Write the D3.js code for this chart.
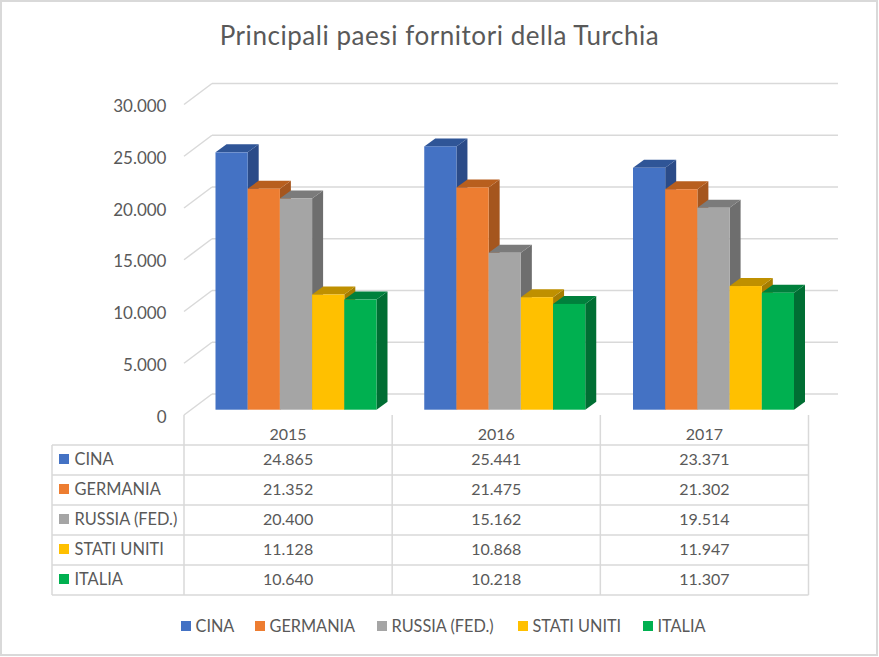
<!DOCTYPE html>
<html lang="it">
<head>
<meta charset="UTF-8">
<title>Principali paesi fornitori della Turchia</title>
<style>
  body { margin: 0; background: #fff; overflow: hidden; }
  svg { display: block; }
  text { font-family: Lato, "Open Sans", sans-serif; fill: #595959; }
</style>
</head>
<body>
<div id="chart"></div>
<script src="https://d3js.org/d3.v7.min.js"></script>
<script>
const years = ["2015", "2016", "2017"];
const countries = ["CINA", "GERMANIA", "RUSSIA (FED.)", "STATI UNITI", "ITALIA"];
const cina = [24865, 25441, 23371];
const germania = [21352, 21475, 21302];
const russia = [20400, 15162, 19514];
const statiUniti = [11128, 10868, 11947];
const italia = [10640, 10218, 11307];
const series = [cina, germania, russia, statiUniti, italia];
const yTicks = [0, 5000, 10000, 15000, 20000, 25000, 30000];

const colors = ["#4472c4", "#ed7d31", "#a5a5a5", "#ffc000", "#00b050"];
const topColors = ["#2f5597", "#b85f1e", "#7b7b7b", "#bf9000", "#00803c"];
const sideColors = ["#2b4b88", "#a5561e", "#6e6e6e", "#a67d00", "#006e33"];

const width = 879, height = 657;
const fmt = d3.formatLocale({ decimal: ",", thousands: ".", grouping: [3], currency: ["", ""] }).format(",d");

const svg = d3.select("#chart").append("svg").attr("width", width).attr("height", height);

// frame of the chart area
svg.append("rect").attr("x", 1).attr("y", 1).attr("width", 876).attr("height", 654)
  .attr("fill", "#fff").attr("stroke", "#d9d9d9").attr("stroke-width", 2);

svg.append("text").attr("x", 439.5).attr("y", 45).attr("text-anchor", "middle")
  .attr("font-size", 26).attr("letter-spacing", 0.55).text("Principali paesi fornitori della Turchia");

// front plane of the axis, the back wall is shifted by depth
const y = d3.scaleLinear().domain([0, 30000]).range([415, 104.5]);
const depthX = 28, depthY = -21;
const grid = "#d9d9d9";

// table columns and bar groups drift apart by about a pixel in the original
const x = d3.scaleBand().domain(years).range([184, 808.5]);
const xGroup = d3.scaleBand().domain(years).range([184, 810.25]);
const xBar = d3.scaleBand().domain(countries).range([31.5, 192.5]);

svg.append("g").selectAll("line").data(yTicks).join("line")
  .attr("x1", 184 + depthX).attr("x2", 838)
  .attr("y1", d => y(d) + depthY).attr("y2", d => y(d) + depthY)
  .attr("stroke", grid).attr("stroke-width", 1.5);

svg.append("g").selectAll("line").data(yTicks).join("line")
  .attr("x1", 184).attr("x2", 184 + depthX)
  .attr("y1", d => y(d)).attr("y2", d => y(d) + depthY)
  .attr("stroke", grid).attr("stroke-width", 1.5);

svg.append("g").selectAll("text").data(yTicks).join("text")
  .attr("x", 166.5).attr("y", d => y(d) + 7.5)
  .attr("text-anchor", "end").attr("font-size", 17).text(d => fmt(d));

// bars, the base sits slightly forward of the floor
const barBase = 409.7, barDX = 11, barDY = -8;
const barY = v => barBase - (y(0) - y(v));

const bars = [];
years.forEach((yr, i) => countries.forEach((c, j) => bars.push({ yr, c, j, v: series[j][i] })));

const barG = svg.append("g").selectAll("g").data(bars).join("g");

barG.append("polygon").attr("fill", d => sideColors[d.j]).attr("points", d => {
  const r = xGroup(d.yr) + xBar(d.c) + xBar.bandwidth();
  return [[r, barBase], [r + barDX, barBase + barDY], [r + barDX, barY(d.v) + barDY], [r, barY(d.v)]].join(" ");
});
barG.append("polygon").attr("fill", d => topColors[d.j]).attr("points", d => {
  const l = xGroup(d.yr) + xBar(d.c), r = l + xBar.bandwidth(), t = barY(d.v);
  return [[l, t], [l + barDX, t + barDY], [r + barDX, t + barDY], [r, t]].join(" ");
});
barG.append("rect").attr("fill", d => colors[d.j])
  .attr("x", d => xGroup(d.yr) + xBar(d.c)).attr("width", xBar.bandwidth())
  .attr("y", d => barY(d.v)).attr("height", d => barBase - barY(d.v));

// data table
const tableLeft = 52, rowTop = 445, rowH = 30;
const rowY = i => rowTop + i * rowH;
const table = svg.append("g").attr("stroke", grid).attr("stroke-width", 1.5);

d3.range(countries.length + 1).forEach(i => {
  table.append("line").attr("x1", tableLeft).attr("x2", x.range()[1]).attr("y1", rowY(i)).attr("y2", rowY(i));
});
table.append("line").attr("x1", tableLeft).attr("x2", tableLeft).attr("y1", rowTop).attr("y2", rowY(countries.length));
[184].concat(years.map(yr => x(yr) + x.bandwidth())).forEach(px => {
  table.append("line").attr("x1", px).attr("x2", px).attr("y1", 415).attr("y2", rowY(countries.length));
});

svg.append("g").selectAll("text").data(years).join("text")
  .attr("x", d => x(d) + x.bandwidth() / 2).attr("y", 439.5)
  .attr("text-anchor", "middle").attr("font-size", 16).text(d => d);

countries.forEach((c, j) => {
  svg.append("rect").attr("x", 59).attr("y", rowY(j) + 9).attr("width", 10).attr("height", 10).attr("fill", colors[j]);
  svg.append("text").attr("x", 74.5).attr("y", rowY(j) + 19.5).attr("font-size", 16.4).text(c);
  years.forEach((yr, i) => {
    svg.append("text").attr("x", x(yr) + x.bandwidth() / 2).attr("y", rowY(j) + 19.5)
      .attr("text-anchor", "middle").attr("font-size", 16).text(fmt(series[j][i]));
  });
});

// legend
const legendX = [181, 255, 377, 518, 643];
countries.forEach((c, j) => {
  svg.append("rect").attr("x", legendX[j]).attr("y", 621).attr("width", 10).attr("height", 10).attr("fill", colors[j]);
  svg.append("text").attr("x", legendX[j] + 14.5).attr("y", 631.5).attr("font-size", 16.3).text(c);
});
</script>
</body>
</html>
